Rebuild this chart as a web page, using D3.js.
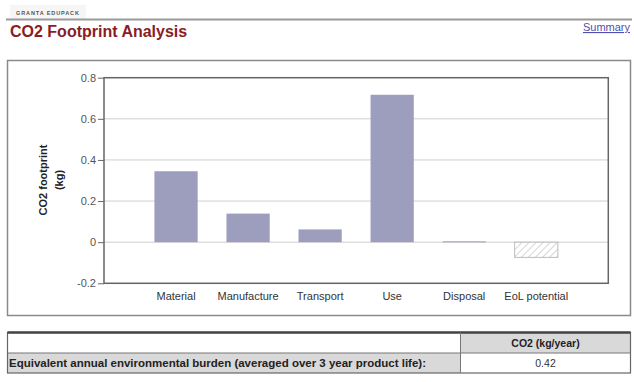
<!DOCTYPE html>
<html><head><meta charset="utf-8">
<script src="https://cdn.jsdelivr.net/npm/d3@7"></script>
<style>
body{margin:0;background:#fff;}
svg{display:block;font-family:"Liberation Sans",Arial,sans-serif;}
</style></head>
<body><svg id="c" width="634" height="382"></svg>
<script>
const categories = ["Material","Manufacture","Transport","Use","Disposal","EoL potential"];
const values = [0.345, 0.139, 0.062, 0.717, 0.004, -0.074];
const yTicks = [-0.2, 0, 0.2, 0.4, 0.6, 0.8];
const yTickLabels = ["-0.2", "0", "0.2", "0.4", "0.6", "0.8"];
const tableHeader = ["", "CO2 (kg/year)"];
const tableRow = ["Equivalent annual environmental burden (averaged over 3 year product life):", "0.42"];

const svg = d3.select("#c");
const defs = svg.append("defs");
const pat = defs.append("pattern").attr("id","hatch").attr("patternUnits","userSpaceOnUse")
  .attr("width",5).attr("height",5).attr("patternTransform","rotate(45)");
pat.append("rect").attr("width",5).attr("height",5).attr("fill","#fff");
pat.append("line").attr("x1",0).attr("y1",0).attr("x2",0).attr("y2",5).attr("stroke","#b8b8b8").attr("stroke-width",1.2);

// header
svg.append("rect").attr("x",10).attr("y",5).attr("width",76).attr("height",14).attr("fill","#f6f6f6");
svg.append("text").attr("x",16).attr("y",14.5).attr("font-size",5.5).attr("font-weight","bold")
  .attr("letter-spacing",0.9).attr("fill","#555").text("GRANTA EDUPACK");
svg.append("line").attr("x1",6).attr("x2",632).attr("y1",19.5).attr("y2",19.5).attr("stroke","#999").attr("stroke-width",2);
svg.append("text").attr("x",10).attr("y",37).attr("font-size",16).attr("font-weight","bold")
  .attr("fill","#8a1c26").text("CO2 Footprint Analysis");
svg.append("text").attr("x",630).attr("y",31).attr("text-anchor","end").attr("font-size",11)
  .attr("fill","#5050b0").attr("text-decoration","underline").text("Summary");

// chart panel
svg.append("rect").attr("x",7.5).attr("y",60.5).attr("width",623).attr("height",255)
  .attr("fill","#fff").attr("stroke","#8a8a8a").attr("stroke-width",1.5);

const m = {l:104, t:77.7, r:608.3, b:283.3};
const x = d3.scaleBand().domain(categories).range([m.l,m.r]).paddingInner(0.4).paddingOuter(0.7);
const y = d3.scaleLinear().domain([-0.2,0.8]).range([m.b,m.t]);

const g = svg.append("g");
// gridlines
g.selectAll("line.grid").data(yTicks).join("line").attr("class","grid")
  .attr("x1",m.l).attr("x2",m.r).attr("y1",d=>y(d)).attr("y2",d=>y(d))
  .attr("stroke","#cfcfcf").attr("stroke-width",1);

// bars
g.selectAll("rect.bar").data(categories).join("rect").attr("class","bar")
  .attr("x",d=>x(d)).attr("width",x.bandwidth())
  .attr("y",(d,i)=>y(Math.max(0,values[i])))
  .attr("height",(d,i)=>Math.max(1,Math.abs(y(values[i])-y(0))))
  .attr("fill",(d,i)=>values[i]<0?"url(#hatch)":"#9d9dbd")
  .attr("stroke",(d,i)=>values[i]<0?"#bbb":"none");

// plot border
svg.append("rect").attr("x",m.l).attr("y",m.t).attr("width",m.r-m.l).attr("height",m.b-m.t)
  .attr("fill","none").attr("stroke","#666").attr("stroke-width",1.5);

// y axis
const ya = svg.append("g").attr("transform",`translate(${m.l},0)`)
  .call(d3.axisLeft(y).tickValues(yTicks).tickSize(6).tickPadding(2).tickFormat((d,i)=>yTickLabels[i]));
ya.select(".domain").remove();
ya.selectAll(".tick line").attr("stroke","#666");
ya.selectAll(".tick text").attr("font-size",11).attr("fill","#555").attr("font-family","Liberation Sans, Arial, sans-serif");

// x axis labels
const xa = svg.append("g").attr("transform",`translate(0,${m.b})`)
  .call(d3.axisBottom(x).tickSize(0).tickPadding(9));
xa.select(".domain").remove();
xa.selectAll(".tick text").attr("font-size",11).attr("fill","#333").attr("font-family","Liberation Sans, Arial, sans-serif");

// y label
const yl = svg.append("text").attr("transform","translate(47,180) rotate(-90)")
  .attr("text-anchor","middle").attr("font-size",11).attr("font-weight","bold").attr("fill","#222");
yl.append("tspan").attr("x",0).attr("dy",0).text("CO2 footprint");
yl.append("tspan").attr("x",0).attr("dy",16).text("(kg)");

// table
const tx0 = 7.5, tx1 = 460.5, tx2 = 630.5, ty0 = 332.5, ty1 = 353, ty2 = 373;
svg.append("rect").attr("x",tx0).attr("y",ty0).attr("width",tx1-tx0).attr("height",ty1-ty0).attr("fill","#fff");
svg.append("rect").attr("x",tx1).attr("y",ty0).attr("width",tx2-tx1).attr("height",ty1-ty0).attr("fill","#d9d9d9");
svg.append("rect").attr("x",tx0).attr("y",ty1).attr("width",tx1-tx0).attr("height",ty2-ty1).attr("fill","#d9d9d9");
svg.append("rect").attr("x",tx1).attr("y",ty1).attr("width",tx2-tx1).attr("height",ty2-ty1).attr("fill","#fff");
svg.append("rect").attr("x",tx0).attr("y",ty0).attr("width",tx2-tx0).attr("height",ty2-ty0)
  .attr("fill","none").attr("stroke","#666").attr("stroke-width",1.2);
svg.append("line").attr("x1",tx0).attr("x2",tx2).attr("y1",ty0).attr("y2",ty0).attr("stroke","#444").attr("stroke-width",2.5);
svg.append("line").attr("x1",tx0).attr("x2",tx2).attr("y1",ty1).attr("y2",ty1).attr("stroke","#777").attr("stroke-width",1);
svg.append("line").attr("x1",tx1).attr("x2",tx1).attr("y1",ty0).attr("y2",ty2).attr("stroke","#777").attr("stroke-width",1);
svg.append("text").attr("x",(tx1+tx2)/2).attr("y",347).attr("text-anchor","middle").attr("font-size",10.5)
  .attr("font-weight","bold").attr("fill","#222").text(tableHeader[1]);
svg.append("text").attr("x",9).attr("y",367).attr("font-size",10.5).attr("font-weight","bold")
  .attr("fill","#222").attr("textLength",417).attr("lengthAdjust","spacingAndGlyphs").text(tableRow[0]);
svg.append("text").attr("x",(tx1+tx2)/2).attr("y",367).attr("text-anchor","middle").attr("font-size",10.5)
  .attr("fill","#333").text(tableRow[1]);
</script></body></html>
